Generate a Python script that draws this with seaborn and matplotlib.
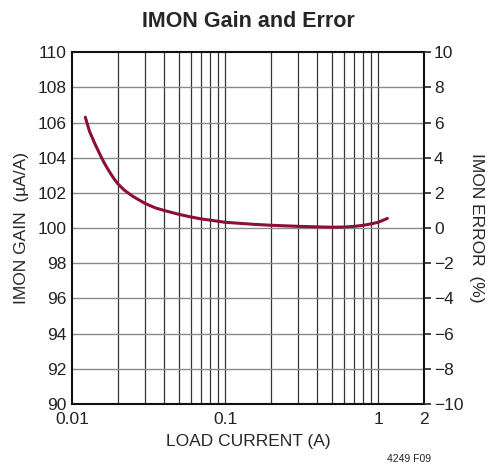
import matplotlib
matplotlib.use("Agg")
import matplotlib.pyplot as plt
import seaborn as sns
import pandas as pd
from matplotlib.ticker import FixedLocator, NullFormatter

# data
load_current = [0.0122, 0.013, 0.014, 0.015, 0.016, 0.017, 0.018, 0.019, 0.02, 0.022,
                0.025, 0.03, 0.035, 0.04, 0.05, 0.06, 0.07, 0.08, 0.1, 0.15,
                0.2, 0.3, 0.4, 0.5, 0.6, 0.7, 0.8, 0.9, 1.0, 1.15]
imon_gain = [106.3, 105.5, 104.85, 104.3, 103.8, 103.4, 103.05, 102.75, 102.5, 102.15,
             101.8, 101.4, 101.15, 101.0, 100.78, 100.63, 100.52, 100.45, 100.33, 100.22,
             100.16, 100.1, 100.07, 100.05, 100.06, 100.1, 100.16, 100.24, 100.33, 100.55]
x_ticks = [0.01, 0.1, 1, 2]
x_tick_labels = ["0.01", "0.1", "1", "2"]
gain_ticks = list(range(90, 111, 2))
error_ticks = list(range(-10, 11, 2))

df = pd.DataFrame({"current": load_current, "gain": imon_gain})

sns.set_style("white")
plt.rcParams["font.family"] = ["Liberation Sans", "DejaVu Sans"]

fig = plt.figure(figsize=(4.87, 4.70), dpi=100)
ax = fig.add_axes([0.148, 0.1404, 0.723, 0.7486])

sns.lineplot(data=df, x="current", y="gain", ax=ax, color="#8c0f35", linewidth=2.2)

ax.set_xscale("log")
ax.set_xlim(0.01, 2)
ax.set_ylim(90, 110)

minor = [m * d for d in (0.01, 0.1) for m in range(2, 10)]
ax.xaxis.set_major_locator(FixedLocator(x_ticks))
ax.xaxis.set_minor_locator(FixedLocator(minor))
ax.xaxis.set_minor_formatter(NullFormatter())
ax.set_xticklabels(x_tick_labels)
ax.set_yticks(gain_ticks)

for v in minor + [0.1, 1]:
    ax.axvline(v, color="#333333", linewidth=0.9, zorder=0)
for g in gain_ticks[1:-1]:
    ax.axhline(g, color="#8a8a8a", linewidth=1.0, zorder=0)

ax.tick_params(axis="both", which="both", length=0, labelsize=12.5, colors="#222222")
ax.tick_params(axis="x", pad=6)
ax.tick_params(axis="y", pad=4)
for s in ax.spines.values():
    s.set_color("#111111")
    s.set_linewidth(1.5)

ax.set_xlabel("LOAD CURRENT (A)", fontsize=12.5, labelpad=5)
ax.set_ylabel("IMON GAIN  (\u00b5A/A)", fontsize=12.5, labelpad=6)
ax.set_title("IMON Gain and Error", fontsize=15.5, fontweight="bold", pad=18)

ax2 = ax.twinx()
ax2.set_ylim(-10, 10)
ax2.set_yticks(error_ticks)
ax2.set_yticklabels([f"\u2212{abs(t)}" if t < 0 else str(t) for t in error_ticks])
ax2.tick_params(axis="y", length=5, width=1.2, labelsize=12.5, pad=2, colors="#222222")
for s in ax2.spines.values():
    s.set_visible(False)
ax2.set_ylabel("IMON ERROR  (%)", fontsize=12.5, rotation=-90, labelpad=15)

fig.text(0.885, 0.012, "4249 F09", fontsize=7.5, ha="right", va="bottom", color="#222222")

fig.savefig("out.png", dpi=100)
